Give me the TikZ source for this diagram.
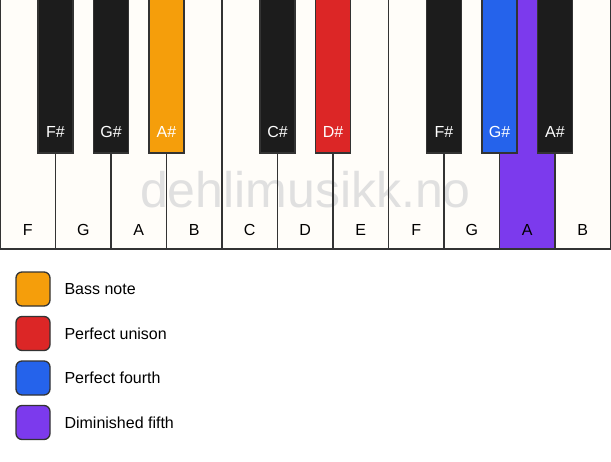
\documentclass[tikz,border=0pt]{standalone}
\usepackage{fontspec}
\setmainfont{Liberation Sans}
\definecolor{ivory}{HTML}{FFFDF9}
\definecolor{keyblack}{HTML}{1C1C1C}
\definecolor{keyline}{HTML}{333333}
\definecolor{bassnote}{HTML}{F59E0B}
\definecolor{unison}{HTML}{DC2626}
\definecolor{fourth}{HTML}{2563EB}
\definecolor{dimfifth}{HTML}{7C3AED}
\definecolor{mark}{HTML}{E0E0E0}
\tikzset{
  whitekey/.style={draw=keyline, line width=1.3pt, fill=ivory},
  blackkey/.style={draw=keyline, line width=1.3pt, fill=keyblack},
  legendbox/.style={draw=keyline, line width=1.3pt, rounded corners=6pt},
  keyname/.style={font=\fontsize{16}{16}\selectfont},
  legendtext/.style={font=\fontsize{16}{16}\selectfont, anchor=west}
}
\begin{document}
\begin{tikzpicture}[x=1pt,y=-1pt]
\useasboundingbox (0,0) rectangle (611,461);
\fill[white] (0,0) rectangle (611,461);

% white keys
\foreach \i/\n in {0/F,1/G,2/A,3/B,4/C,5/D,6/E,7/F,8/G,9/A,10/B}
  \draw[whitekey] (55.5*\i,-2) rectangle (55.5*\i+55.5,249);
\fill[dimfifth] (499.5,0) rectangle (555,249);
\node[text=mark, font=\fontsize{50}{50}\selectfont, anchor=base] (mark) at (305.5,207) {dehlimusikk.no};
\foreach \i in {1,...,10}
  \draw[keyline, line width=1.3pt] (55.5*\i,0) -- (55.5*\i,249);
\draw[keyline, line width=1.5pt] (0,0) -- (0,249) -- (611,249);
\foreach \i/\n in {0/F,1/G,2/A,3/B,4/C,5/D,6/E,7/F,8/G,9/A,10/B}
  \node[keyname] (w\i) at (55.5*\i+27.75,230) {\n};

% black keys
\foreach \b/\n/\c in {1/F\#/keyblack,2/G\#/keyblack,3/A\#/bassnote,5/C\#/keyblack,
  6/D\#/unison,8/F\#/keyblack,9/G\#/fourth,10/A\#/keyblack}
{
  \draw[blackkey, fill=\c] (55.5*\b-17.5,-2) rectangle (55.5*\b+17.5,153);
  \node[keyname, text=white] (b\b) at (55.5*\b,132) {\n};
}

% legend
\foreach \k/\c/\t in {0/bassnote/Bass note,1/unison/Perfect unison,
  2/fourth/Perfect fourth,3/dimfifth/Diminished fifth}
{
  \draw[legendbox, fill=\c] (16,272+44.5*\k) rectangle (50,306+44.5*\k);
  \node[legendtext] (l\k) at (61,289+44.5*\k) {\t};
}
\end{tikzpicture}
\end{document}
